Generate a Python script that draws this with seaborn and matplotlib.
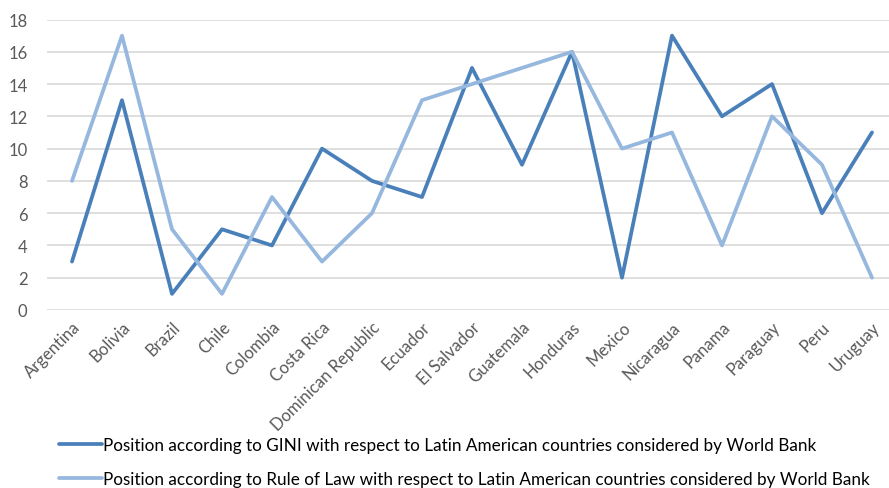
import pandas as pd
import matplotlib.pyplot as plt
import seaborn as sns

countries = ["Argentina", "Bolivia", "Brazil", "Chile", "Colombia", "Costa Rica",
             "Dominican Republic", "Ecuador", "El Salvador", "Guatemala", "Honduras",
             "Mexico", "Nicaragua", "Panama", "Paraguay", "Peru", "Uruguay"]
gini_pos = [3, 13, 1, 5, 4, 10, 8, 7, 15, 9, 16, 2, 17, 12, 14, 6, 11]
law_pos = [8, 17, 5, 1, 7, 3, 6, 13, 14, 15, 16, 10, 11, 4, 12, 9, 2]
series_names = [
    "Position according to GINI with respect to Latin American countries considered by World Bank",
    "Position according to Rule of Law with respect to Latin American countries considered by World Bank",
]
colors = ["#4A80BA", "#96B7DE"]

df = pd.concat([
    pd.DataFrame({"country": countries, "position": gini_pos, "series": series_names[0]}),
    pd.DataFrame({"country": countries, "position": law_pos, "series": series_names[1]}),
])
df["country"] = pd.Categorical(df["country"], categories=countries, ordered=True)
df["x"] = df["country"].cat.codes

sns.set_theme(style="white")
plt.rcParams["font.family"] = ["Lato", "DejaVu Sans"]

fig = plt.figure(figsize=(8.89, 4.89), dpi=100)
ax = fig.add_axes([47 / 889, (489 - 311) / 489, 850 / 889, (311 - 20.5) / 489])

sns.lineplot(data=df, x="x", y="position", hue="series", palette=colors,
             linewidth=2.7, sort=False, ax=ax, legend=False)

ax.set_xlim(-0.5, len(countries) - 0.5)
ax.set_ylim(0, 18)
ax.set_yticks(range(0, 19, 2))
ax.set_xticks(range(len(countries)))
ax.set_xticklabels(countries, rotation=45, ha="right", rotation_mode="anchor")
ax.set_xlabel("")
ax.set_ylabel("")
ax.grid(axis="y", color="#D9D9D9", linewidth=1.2)
ax.set_axisbelow(True)
for s in ax.spines.values():
    s.set_visible(False)
ax.tick_params(axis="both", length=0, labelsize=12, colors="#595959")
ax.tick_params(axis="y", pad=14)
ax.tick_params(axis="x", pad=6)

handles = [plt.Line2D([], [], color=c, linewidth=2.7) for c in colors]
fig.legend(handles, series_names, loc="lower left", bbox_to_anchor=(44 / 889, -0.03),
           ncol=1, frameon=False, fontsize=12.3, labelcolor="#000000",
           handlelength=2.5, handletextpad=0.05, labelspacing=1.1)

fig.savefig("out.png", dpi=100)
